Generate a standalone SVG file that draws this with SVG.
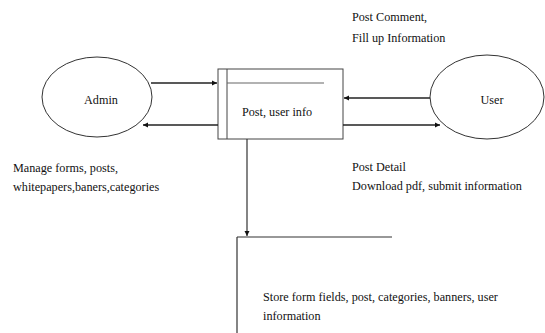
<svg xmlns="http://www.w3.org/2000/svg" width="545" height="333" viewBox="0 0 545 333">
<style>
text{font-family:"Liberation Serif","Times New Roman",serif;font-size:12.2px;fill:#111}
.ent{fill:#fff;stroke:#333;stroke-width:1}
.flow{stroke:#222;stroke-width:1.6;fill:none}
.box{fill:#fff;stroke:#444;stroke-width:1}
</style>
<defs>
<marker id="ah" markerWidth="6" markerHeight="6" refX="5" refY="3" orient="auto" markerUnits="userSpaceOnUse">
<path d="M0,0.5 L5,3 L0,5.5 Z" fill="#111"/>
</marker>
</defs>
<rect width="545" height="333" fill="#fff"/>
<g id="admin">
<ellipse class="ent" cx="97" cy="97" rx="55" ry="40"/>
<text x="101" y="104" text-anchor="middle">Admin</text>
</g>
<g id="user">
<ellipse class="ent" cx="487" cy="97" rx="57" ry="42"/>
<text x="492" y="104" text-anchor="middle">User</text>
</g>
<g id="process">
<rect class="box" x="218" y="69" width="125" height="70"/>
<line x1="227" y1="69" x2="227" y2="139" stroke="#444" stroke-width="1"/>
<line x1="227" y1="83" x2="324" y2="83" stroke="#666" stroke-width="1.2"/>
<text x="277" y="116" text-anchor="middle" font-size="12">Post, user info</text>
</g>
<g id="store">
<line x1="237" y1="237" x2="392" y2="237" stroke="#333" stroke-width="1.2"/>
<line x1="237" y1="237" x2="237" y2="333" stroke="#333" stroke-width="1.2"/>
<text x="263" y="301">Store form fields, post, categories, banners, user</text>
<text x="263" y="320">information</text>
</g>
<g id="connectors">
<line class="flow" x1="151" y1="83" x2="217" y2="83" marker-end="url(#ah)"/>
<line class="flow" x1="218" y1="125" x2="143" y2="125" marker-end="url(#ah)"/>
<line class="flow" x1="430" y1="98" x2="344" y2="98" marker-end="url(#ah)"/>
<line class="flow" x1="343" y1="125" x2="440" y2="125" marker-end="url(#ah)"/>
<line x1="247" y1="139" x2="247" y2="236" stroke="#333" stroke-width="1.2" marker-end="url(#ah)"/>
</g>
<g id="labels">
<text x="352" y="21">Post Comment,</text>
<text x="352" y="42">Fill up Information</text>
<text x="13" y="172">Manage forms, posts,</text>
<text x="13" y="191">whitepapers,baners,categories</text>
<text x="352" y="171">Post Detail</text>
<text x="352" y="190">Download pdf, submit information</text>
</g>
</svg>
